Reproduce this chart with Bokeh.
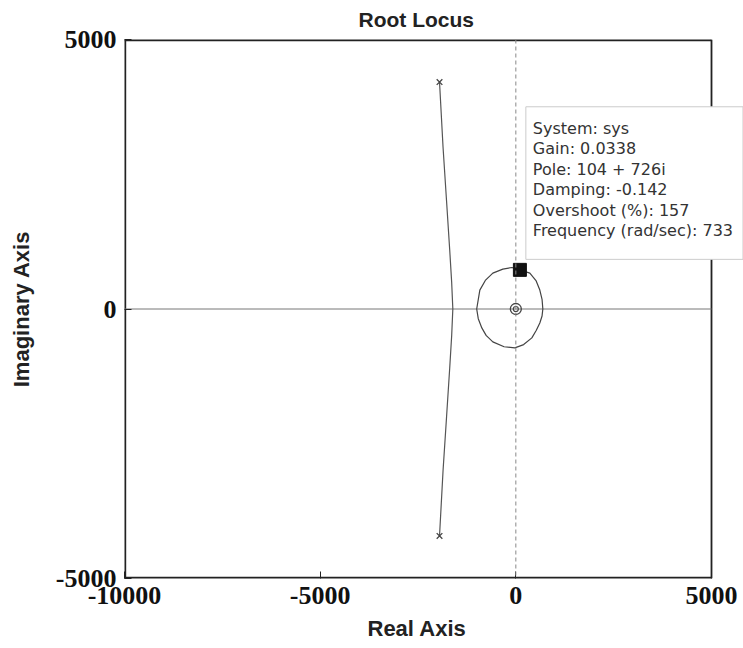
from bokeh.plotting import figure
from bokeh.models import FixedTicker, Label, Span, Range1d, Title
from bokeh.embed import file_html
from bokeh.resources import INLINE

# ---- data ----
x_ticks = [-10000, -5000, 0, 5000]
x_tick_labels = ["-10000", "-5000", "0", "5000"]
y_ticks = [-5000, 0, 5000]
y_tick_labels = ["-5000", "0", "5000"]
x_lim = (-10000, 5000)
y_lim = (-5000, 5000)

# open-loop poles (x markers)
pole_re = [-1950, -1950]
pole_im = [4210, -4210]

# branch from upper pole down to the real axis
upper_re = [-1950, -1860, -1770, -1690, -1640, -1610]
upper_im = [4210, 3000, 2000, 1100, 500, 0]
# branch from lower pole up to the real axis
lower_re = [-1950, -1860, -1770, -1690, -1640, -1610]
lower_im = [-4210, -3000, -2000, -1100, -500, 0]

# loop around the origin
loop_re = [-1000, -920, -780, -588, -332, -100, 104, 358, 520, 613, 670, 690, 670, 613, 520, 409, 200, -26, -300, -588, -760, -869, -960, -1000]
loop_im = [0, 350, 530, 665, 740, 770, 726, 665, 520, 351, 180, 0, -130, -259, -400, -536, -660, -721, -700, -610, -490, -351, -180, 0]

# zero at the origin
zero_re = [0]
zero_im = [0]

# selected point (data tip)
sel_re = [104]
sel_im = [726]
tip_lines = ["System: sys", "Gain: 0.0338", "Pole: 104 + 726i", "Damping: -0.142",
             "Overshoot (%): 157", "Frequency (rad/sec): 733"]

# frame is 587 px wide for 15000 units; the canvas extends 32 px beyond the
# right edge of the box so that the data tip can overflow it, as in the reference
px_per_unit = 587 / (x_lim[1] - x_lim[0])
x_canvas_end = x_lim[1] + 32 / px_per_unit

p = figure(width=743, height=648, output_backend="svg", toolbar_location=None,
           x_range=Range1d(x_lim[0], x_canvas_end), y_range=Range1d(*y_lim),
           y_axis_label="Imaginary Axis",
           min_border_left=124, min_border_right=0, min_border_top=39, min_border_bottom=68)

p.background_fill_color = "white"
p.border_fill_color = "white"
p.outline_line_color = None
p.xgrid.visible = False
p.ygrid.visible = False

title = Title(text="Root Locus", align="left", offset=234, text_font="Liberation Sans",
              text_font_style="bold", text_font_size="21px", text_color="#222222",
              standoff=14, vertical_align="top")
p.add_layout(title, "above")

for ax in (p.xaxis[0], p.yaxis[0]):
    ax.major_label_text_font = "Liberation Serif"
    ax.major_label_text_font_style = "bold"
    ax.major_label_text_font_size = "26px"
    ax.major_label_text_color = "#111111"
    ax.axis_label_text_font = "Liberation Sans"
    ax.axis_label_text_font_style = "bold"
    ax.axis_label_text_font_size = "22px"
    ax.axis_label_text_color = "#222222"
    ax.axis_line_color = None
    ax.major_tick_in = 7
    ax.major_tick_out = 0
    ax.minor_tick_line_color = None
    ax.major_tick_line_color = "#222222"

p.xaxis[0].ticker = FixedTicker(ticks=x_ticks)
p.yaxis[0].ticker = FixedTicker(ticks=y_ticks)
p.xaxis[0].major_label_overrides = {t: s for t, s in zip(x_ticks, x_tick_labels)}
p.yaxis[0].major_label_overrides = {t: s for t, s in zip(y_ticks, y_tick_labels)}
p.xaxis[0].major_label_standoff = 8
p.yaxis[0].major_label_standoff = 8
p.yaxis[0].axis_label_standoff = 19

# x axis label as a bottom title so that it is centred under the box
xlabel = Title(text="Real Axis", align="left", offset=367 - 124, text_font="Liberation Sans",
               text_font_style="bold", text_font_size="22px", text_color="#222222",
               standoff=15)
p.add_layout(xlabel, "below")

# box around the axes region
p.segment(x0=[x_lim[0], x_lim[0], x_lim[0]],
          y0=[y_lim[1], y_lim[0], y_lim[0]],
          x1=[x_lim[1], x_lim[1], x_lim[0]],
          y1=[y_lim[1], y_lim[0], y_lim[1]],
          line_color="#222222", line_width=3.4)
p.segment(x0=[x_lim[1]], y0=[y_lim[0]], x1=[x_lim[1]], y1=[y_lim[1]],
          line_color="#222222", line_width=1.8)

# crosshair at the origin
p.segment(x0=[x_lim[0]], y0=[0], x1=[x_lim[1]], y1=[0], line_color="#777777", line_width=1)
p.add_layout(Span(location=0, dimension="height", line_color="#888888", line_width=1, line_dash="4 3"))

# locus branches
p.line(upper_re, upper_im, line_color="#555555", line_width=1.2)
p.line(lower_re, lower_im, line_color="#555555", line_width=1.2)
p.line(loop_re, loop_im, line_color="#444444", line_width=1.2)

# poles and zero
p.scatter(pole_re, pole_im, marker="x", size=8, line_color="#444444", line_width=1.3)
p.scatter(zero_re, zero_im, marker="circle", size=11, fill_color=None, line_color="#444444", line_width=1.3)
p.scatter(zero_re, zero_im, marker="circle", size=5, fill_color=None, line_color="#444444", line_width=1.2)

# selected point
p.scatter(sel_re, sel_im, marker="square", size=13, fill_color="#111111", line_color="#111111")

# data tip box (padding order: left, right, top, bottom)
tip = Label(x=256, y=3752, x_units="data", y_units="data", anchor="top_left",
            text="\n".join(tip_lines), text_font="DejaVu Sans", text_font_size="16px",
            text_color="#333333", text_line_height=1.08, padding=(7, 10, 12, 19),
            background_fill_color="white", border_line_color="#cccccc", border_line_width=1)
p.add_layout(tip)

open("out.html", "w").write(file_html(p, INLINE))
